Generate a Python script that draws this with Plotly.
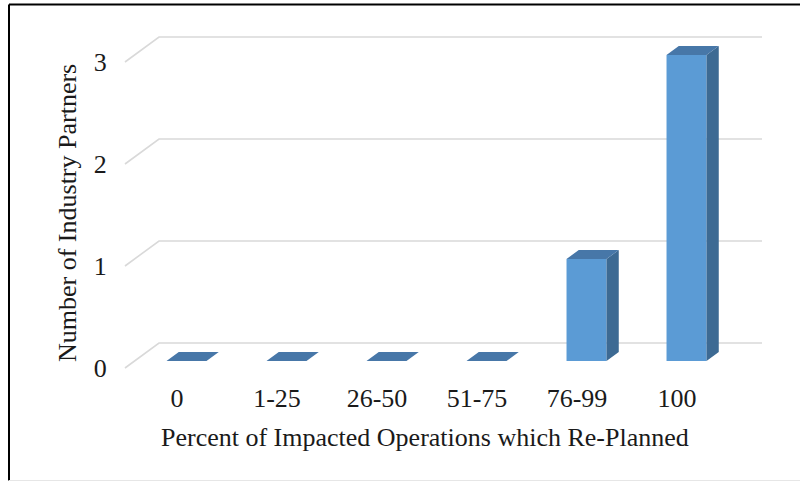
import plotly.graph_objects as go

# ---- data -------------------------------------------------------------
categories = ["0", "1-25", "26-50", "51-75", "76-99", "100"]
partners = [0, 0, 0, 0, 1, 3]
y_ticks = [0, 1, 2, 3]

x_title = "Percent of Impacted Operations which Re-Planned"
y_title = "Number of Industry Partners"

# ---- pseudo-3D geometry (in axis units) ---------------------------------
DEPTH_X = 0.34      # horizontal shift from front floor edge to back wall
DEPTH_Y = 0.245     # vertical shift from front floor edge to back wall
FRONT = 0.28        # depth fraction of bar front face
BACK = 0.64         # depth fraction of bar back face
BAR_W = 0.4
FLOOR_X0, FLOOR_X1 = -0.52, 5.51

FRONT_COLOR = "#5b9bd5"
SIDE_COLOR = "#3d6a93"
TOP_COLOR = "#4777a8"
GRID_COLOR = "#d9d9d9"
TEXT_COLOR = "#1a1a1a"
FONT = "Liberation Serif, Times New Roman, serif"

# plot area in pixels
W, H = 800, 481
L, R, T, B = 120, 770, 20, 372
PX_CAT, PX_VAL = 100, 102
x_range = [FLOOR_X0 - (125 - L) / PX_CAT, FLOOR_X0 + (R - 125) / PX_CAT]
y_range = [-(B - 368) / PX_VAL, (368 - T) / PX_VAL]


def px_to_paper(px, py):
    return (px - L) / (R - L), (B - py) / (B - T)


fig = go.Figure()

# gridlines (below the bars): front ticks run diagonally back to the wall,
# then across it
for v in y_ticks:
    path = (f"M {FLOOR_X0},{v} L {FLOOR_X0 + DEPTH_X},{v + DEPTH_Y} "
            f"L {FLOOR_X1 + DEPTH_X},{v + DEPTH_Y}")
    fig.add_shape(type="path", path=path, xref="x", yref="y", layer="below",
                  line=dict(color=GRID_COLOR, width=1.6))

# bar faces
fdx, fdy = FRONT * DEPTH_X, FRONT * DEPTH_Y
bdx, bdy = BACK * DEPTH_X, BACK * DEPTH_Y
sx, sy, tx, ty = [], [], [], []
for i, v in enumerate(partners):
    xl = i + fdx - BAR_W / 2
    xr = i + fdx + BAR_W / 2
    ddx = bdx - fdx
    if v > 0:
        sx += [xr, xr + ddx, xr + ddx, xr, xr, None]
        sy += [fdy, bdy, bdy + v, fdy + v, fdy, None]
    tx += [xl, xr, xr + ddx, xl + ddx, xl, None]
    ty += [fdy + v, fdy + v, bdy + v, bdy + v, fdy + v, None]

fig.add_trace(go.Bar(x=[i + fdx for i in range(len(categories))],
                     y=partners, base=fdy, width=BAR_W,
                     marker=dict(color=FRONT_COLOR, line=dict(width=0)),
                     hoverinfo="skip", showlegend=False))
fig.add_trace(go.Scatter(x=sx, y=sy, mode="lines", fill="toself",
                         fillcolor=SIDE_COLOR, line=dict(width=0),
                         hoverinfo="skip", showlegend=False))
fig.add_trace(go.Scatter(x=tx, y=ty, mode="lines", fill="toself",
                         fillcolor=TOP_COLOR, line=dict(width=0),
                         hoverinfo="skip", showlegend=False))

# axis titles
ax, ay = px_to_paper(425, 437)
fig.add_annotation(text=x_title, xref="paper", yref="paper", x=ax, y=ay,
                   xanchor="center", yanchor="middle", showarrow=False,
                   font=dict(family=FONT, size=26, color=TEXT_COLOR))
ax, ay = px_to_paper(67, 213)
fig.add_annotation(text=y_title, xref="paper", yref="paper", x=ax, y=ay,
                   xanchor="center", yanchor="middle", showarrow=False,
                   textangle=-90,
                   font=dict(family=FONT, size=26, color=TEXT_COLOR))

# chart frame
x0, y0 = px_to_paper(9, 4.5)
x1, y1 = px_to_paper(800, 480.5)
fig.add_shape(type="line", xref="paper", yref="paper", x0=x0, y0=y0, x1=x0, y1=y1,
              line=dict(color="black", width=2))
fig.add_shape(type="line", xref="paper", yref="paper", x0=x0, y0=y0, x1=x1, y1=y0,
              line=dict(color="black", width=2))
fig.add_shape(type="line", xref="paper", yref="paper", x0=x0, y0=y1, x1=x1, y1=y1,
              line=dict(color="#e6e6e6", width=1))

fig.update_layout(
    width=W, height=H,
    margin=dict(l=L, r=W - R, t=T, b=H - B, pad=0),
    paper_bgcolor="white", plot_bgcolor="white",
    font=dict(family=FONT, size=26, color=TEXT_COLOR),
    barmode="overlay",
    xaxis=dict(range=x_range, tickmode="array",
               tickvals=list(range(len(categories))), ticktext=categories,
               showgrid=False, zeroline=False, showline=False,
               ticks="outside", ticklen=3, tickcolor="rgba(0,0,0,0)",
               tickfont=dict(family=FONT, size=26, color=TEXT_COLOR),
               fixedrange=True),
    yaxis=dict(range=y_range, tickmode="array", tickvals=y_ticks,
               ticktext=[str(v) for v in y_ticks],
               showgrid=False, zeroline=False, showline=False,
               ticks="outside", ticklen=7, tickcolor="rgba(0,0,0,0)",
               tickfont=dict(family=FONT, size=26, color=TEXT_COLOR),
               fixedrange=True),
)

fig.write_html("out.html")
